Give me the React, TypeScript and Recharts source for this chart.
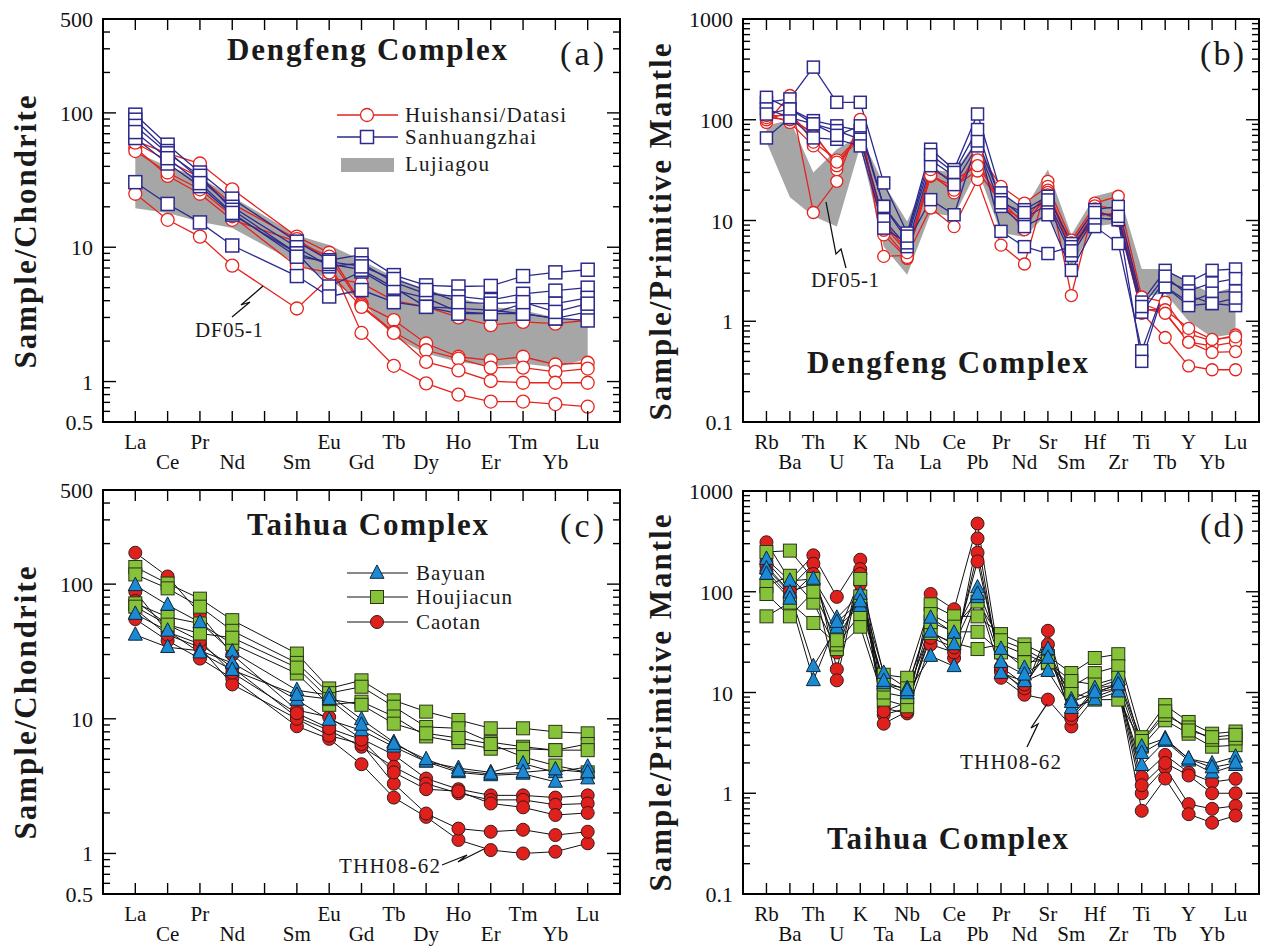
import React from 'react';
import { ComposedChart, Line, Area, XAxis, YAxis, ReferenceArea } from 'recharts';

const SERIF = '"Liberation Serif", "Times New Roman", serif';

// tick labels
const reeLabels = ['La', 'Ce', 'Pr', 'Nd', '', 'Sm', 'Eu', 'Gd', 'Tb', 'Dy', 'Ho', 'Er', 'Tm', 'Yb', 'Lu'];
const spiderLabels = ['Rb', 'Ba', 'Th', 'U', 'K', 'Ta', 'Nb', 'La', 'Ce', 'Pb', 'Pr', 'Nd', 'Sr', 'Sm', 'Hf', 'Zr', 'Ti', 'Tb', 'Y', 'Yb', 'Lu'];
const reeYLabels = [0.5, 1, 10, 100, 500];
const spiderYLabels = [0.1, 1, 10, 100, 1000];

// (a) chondrite-normalised REE, Dengfeng (La Ce Pr Nd Sm Eu Gd Tb Dy Ho Er Tm Yb Lu)
const aHD1 = [25, 16, 12, 7.3, 3.5, 5.9, 5.4, 4.0, 3.6, 3.0, 2.63, 2.78, 2.7, 2.86];
const aHD2 = [62, 50, 42, 27, 12, 9.1, 3.8, 2.87, 1.92, 1.53, 1.44, 1.53, 1.34, 1.38];
const aHD3 = [55, 34, 25, 16, 11, 8.5, 3.7, 2.34, 1.71, 1.48, 1.27, 1.27, 1.18, 1.25];
const aHD4 = [52, 36, 27, 17, 7.2, 6.5, 3.6, 2.3, 1.4, 1.21, 1.01, 0.98, 0.98, 0.98];
const aHD5 = [60, 44, 33, 21, 11.5, 8, 2.3, 1.31, 0.97, 0.8, 0.71, 0.71, 0.68, 0.65];
const aSH1 = [97, 58, 36, 23, 11, 8.0, 8.8, 6.2, 5.2, 5.1, 5.15, 6.1, 6.5, 6.8];
const aSH2 = [89, 52, 32, 20, 10, 7.2, 7.6, 5.5, 4.5, 4.3, 4.05, 4.5, 4.75, 5.0];
const aSH3 = [80, 50, 34, 19, 9, 5.1, 6.6, 4.8, 4.2, 3.3, 3.2, 3.8, 3.8, 4.2];
const aSH4 = [65, 42, 28.5, 17.5, 9, 7.5, 6.8, 5.0, 3.6, 3.5, 3.4, 3.2, 2.95, 3.3];
const aSH5 = [30.5, 21, 15.3, 10.3, 6.1, 4.3, 4.8, 3.9, 3.6, 3.2, 3.2, 3.2, 2.95, 2.85];
const aSH6 = [72, 46, 30, 18, 8.5, 7.8, 7.2, 5.8, 4.8, 3.9, 3.8, 3.9, 3.3, 3.8];
const aLjgHigh = [51, 40, 33, 23.8, 12.3, 10.4, 8.0, 6.0, 4.8, 4.2, 3.6, 3.4, 3.0, 2.86];
const aLjgLow = [19.5, 18, 15.5, 13.9, 7.6, 5.7, 4.0, 2.15, 1.62, 1.4, 1.3, 1.36, 1.27, 1.48];

// (b) primitive-mantle-normalised, Dengfeng
const bHD1 = [94, 174, 12, 24.5, 101, 4.4, 4.5, 13.3, 8.7, 25.5, 5.7, 3.7, 24.5, 1.8, 14.9, 17.4, 1.74, 1.55, 0.75, 0.64, 0.73];
const bHD2 = [114, 94, 55, 32, 81, 7.2, 4.2, 30, 18.8, 49, 21.8, 14.9, 21.8, 6.4, 14, 13, 1.49, 1.23, 0.62, 0.57, 0.62];
const bHD3 = [100, 120, 60, 40, 70, 9.8, 5.0, 27.5, 22, 31, 15, 8.1, 20, 5.5, 12, 11, 1.3, 1.3, 0.85, 0.66, 0.7];
const bHD4 = [105, 100, 75, 35, 75, 8, 4.3, 28, 20, 40, 14, 10, 19, 5.0, 11, 12, 1.35, 1.2, 0.62, 0.49, 0.5];
const bHD5 = [110, 110, 70, 38, 65, 9, 4.8, 32, 25, 35, 16, 9, 18, 6, 13, 10, 1.2, 0.69, 0.36, 0.33, 0.33];
const bSH1 = [149, 161, 333, 149, 149, 23.6, 7.5, 51, 32, 114, 18.8, 12.8, 17.4, 5.9, 12.8, 13.8, 1.55, 3.2, 2.45, 3.2, 3.3];
const bSH2 = [167, 128, 98, 87, 78, 13.8, 6.4, 40, 27.5, 61.6, 16.1, 10.6, 14.4, 4.5, 10.6, 10.2, 1.23, 2.55, 2.0, 2.4, 2.65];
const bSH3 = [128, 105, 91, 78, 64, 10.2, 5.5, 35, 22.7, 55, 13.8, 8.7, 11.4, 3.2, 8.7, 5.9, 0.51, 2.2, 1.55, 1.9, 2.0];
const bSH4 = [66, 105, 66, 64, 55, 8.4, 6.0, 16.1, 11.4, 61.6, 7.8, 5.5, 4.7, 5.5, 10.6, 10.2, 0.4, 2.2, 1.43, 1.5, 1.43];
const bSH5 = [114, 128, 91, 70, 87, 13.8, 7.0, 45, 30, 80, 15, 12, 16, 5.0, 12, 11, 1.4, 2.8, 1.8, 1.5, 1.7];
const bLjgHigh = [87, 100, 30, 51, 70, 23, 9.8, 32, 30, 64, 18.8, 12.8, 32, 7.2, 17.4, 20, 3.3, 3.3, 2.4, 1.9, 2.2];
const bLjgLow = [60, 17, 11, 8.7, 55, 5.5, 2.9, 11.8, 11, 32, 7.5, 6.9, 11.8, 3.5, 8.7, 9.4, 1.74, 1.9, 1.0, 0.69, 0.75];

// (c) chondrite-normalised REE, Taihua
const cBY1 = [98, 70, 52, 31.5, 16.3, 15.0, 9.9, 6.7, 4.8, 4.3, 4.0, 4.65, 4.0, 4.4];
const cBY2 = [42, 34, 32, 26, 13.8, 9.8, 8.2, 6.2, 4.8, 4.0, 3.8, 3.9, 3.4, 3.6];
const cBY3 = [60, 45, 31, 23, 15, 14, 9, 6.5, 5.0, 4.1, 3.9, 4.0, 4.2, 4.0];
const cHJ1 = [134, 101, 78, 54, 30.5, 16.8, 19.3, 13.7, 11.3, 9.8, 8.5, 8.5, 8.0, 7.8];
const cHJ2 = [118, 93, 68, 45, 26, 15.5, 17.3, 12.3, 8.7, 8.5, 6.7, 6.2, 5.85, 6.5];
const cHJ3 = [72, 57, 51, 36, 21.7, 12.7, 13.4, 10.4, 7.4, 6.7, 6.0, 6.0, 5.85, 5.85];
const cHJ4 = [68, 50, 43, 40, 24, 14, 12.7, 9.2, 7.8, 7.2, 6.5, 5.2, 4.5, 4.0];
const cCT1 = [171, 114, 60, 30, 11.6, 10.3, 7.1, 5.4, 3.6, 3.0, 2.7, 2.7, 2.6, 2.7];
const cCT2 = [88, 44, 36, 24, 10.3, 8.2, 6.2, 4.4, 3.3, 2.8, 2.5, 2.5, 2.3, 2.35];
const cCT3 = [55, 38, 28, 20, 8.8, 7.1, 4.6, 2.6, 1.87, 1.26, 1.06, 1.0, 1.03, 1.19];
const cCT4 = [65, 42, 34, 18, 10, 7.5, 6.5, 3.3, 1.98, 1.53, 1.45, 1.5, 1.37, 1.45];
const cCT5 = [75, 50, 38, 22, 11, 8.5, 7.0, 4.0, 3.0, 2.9, 2.35, 2.2, 1.93, 2.0];

// (d) primitive-mantle-normalised, Taihua
const dHJ1 = [248, 256, 134, 36, 134, 15, 14, 75, 57, 57, 38, 30, 23, 15.6, 22, 24, 3.6, 7.5, 5.1, 3.9, 4.1];
const dHJ2 = [114, 144, 78, 27, 45, 8.5, 7.3, 39, 31, 27, 30, 24, 19.5, 11.4, 15.6, 18.2, 2.9, 5.3, 3.9, 2.9, 3.0];
const dHJ3 = [57, 78, 49, 30, 60, 10, 9, 50, 40, 40, 25, 20, 21, 10, 8.5, 8.5, 3.2, 6, 4.5, 3.4, 3.5];
const dHJ4 = [95, 57, 100, 33, 90, 12, 11, 60, 45, 80, 33, 27, 20, 13, 12, 14, 3.3, 6.5, 4.2, 3.6, 3.8];
const dBY1 = [211, 128, 134, 55, 95, 15.6, 11, 55, 39, 110, 27, 17.5, 27, 8.5, 11, 13.4, 2.9, 3.5, 2.2, 1.97, 2.3];
const dBY2 = [170, 98, 18.2, 44, 72, 12.3, 9.8, 23, 18.2, 88, 15.6, 12.9, 16.3, 7.0, 8.5, 10.2, 1.9, 3.3, 2.1, 1.6, 1.9];
const dBY3 = [150, 85, 13.2, 50, 80, 13, 10.5, 40, 30, 95, 20, 15, 22, 8, 10, 12, 2.5, 3.4, 2.2, 1.8, 2.0];
const dCT1 = [310, 130, 230, 89, 208, 7.0, 6.2, 95, 67, 475, 17, 10.3, 41, 5.75, 11, 12, 1.45, 2.4, 1.6, 1.29, 1.39];
const dCT2 = [200, 110, 190, 17, 168, 6, 7, 45, 22, 338, 14, 9.5, 8.5, 4.6, 9, 11, 1.0, 1.8, 0.78, 0.7, 0.75];
const dCT3 = [180, 100, 120, 13.2, 150, 4.9, 6.5, 30, 25, 244, 16, 11, 30, 5.5, 10, 11, 0.67, 1.4, 0.62, 0.51, 0.6];
const dCT4 = [160, 90, 150, 25, 120, 6.5, 8, 35, 28, 200, 18, 12, 25, 6, 10, 12, 1.2, 2.0, 1.5, 1.0, 1.0];

const RED = '#e5231d';
const NAVY = '#2c2a8c';
const GREY = '#a6a6a6';
const C_RED = '#e0201c';
const C_GREEN = '#86c23a';
const C_BLUE = '#1a8ad4';

// markers
const openCircle = (color: string, r: number) => (p: any) =>
  p.cx == null ? <g key={`e-${p.index}`} /> :
    <circle key={`oc-${p.dataKey}-${p.index}`} cx={p.cx} cy={p.cy} r={r} fill="#fff" stroke={color} strokeWidth={1.3} />;
const openSquare = (color: string, s: number) => (p: any) =>
  p.cx == null ? <g key={`e-${p.index}`} /> :
    <rect key={`os-${p.dataKey}-${p.index}`} x={p.cx - s / 2} y={p.cy - s / 2} width={s} height={s} fill="#fff" stroke={color} strokeWidth={1.5} />;
const fillCircle = (color: string, r: number) => (p: any) =>
  p.cx == null ? <g key={`e-${p.index}`} /> :
    <circle key={`fc-${p.dataKey}-${p.index}`} cx={p.cx} cy={p.cy} r={r} fill={color} stroke="#3a1a1a" strokeWidth={1} />;
const fillSquare = (color: string, s: number) => (p: any) =>
  p.cx == null ? <g key={`e-${p.index}`} /> :
    <rect key={`fs-${p.dataKey}-${p.index}`} x={p.cx - s / 2} y={p.cy - s / 2} width={s} height={s} fill={color} stroke="#2a3416" strokeWidth={1} />;
const fillTriangle = (color: string, s: number) => (p: any) =>
  p.cx == null ? <g key={`e-${p.index}`} /> :
    <polygon key={`ft-${p.dataKey}-${p.index}`}
      points={`${p.cx},${p.cy - s * 0.58} ${p.cx - s / 2},${p.cy + s * 0.38} ${p.cx + s / 2},${p.cy + s * 0.38}`}
      fill={color} stroke="#10263a" strokeWidth={1} />;

type Group = { series: Record<string, number[]>; stroke: string; width: number; dot: (p: any) => React.ReactElement };

const logTicks = (lo: number, hi: number) => {
  const out: number[] = [];
  for (let d = 0.01; d <= 1000; d *= 10) {
    for (let m = 1; m < 10; m++) {
      const v = Number((m * d).toPrecision(6));
      if (v >= lo - 1e-9 && v <= hi + 1e-9) out.push(v);
    }
  }
  return out;
};

const isDecade = (v: number) => Math.abs(Math.log10(v) - Math.round(Math.log10(v))) < 1e-6;

const makeYTick = (plotW: number, labels: number[]) => (p: any) => {
  const v = p.payload.value;
  const len = isDecade(v) ? 13 : 7;
  return (
    <g>
      <line x1={p.x} y1={p.y} x2={p.x + len} y2={p.y} stroke="#000" strokeWidth={1.4} />
      <line x1={p.x + plotW} y1={p.y} x2={p.x + plotW - len} y2={p.y} stroke="#000" strokeWidth={1.4} />
      {labels.includes(v) && (
        <text x={p.x - 10} y={p.y + 8} textAnchor="end" fontSize={22} fontFamily={SERIF} fill="#111">{String(v)}</text>
      )}
    </g>
  );
};

const makeXTick = (plotH: number, labels: string[]) => (p: any) => {
  const v = p.payload.value;
  const lab = labels[v - 1] || '';
  const second = v % 2 === 0;
  return (
    <g>
      <line x1={p.x} y1={p.y} x2={p.x} y2={p.y - 11} stroke="#000" strokeWidth={1.4} />
      <line x1={p.x} y1={p.y - plotH} x2={p.x} y2={p.y - plotH + 11} stroke="#000" strokeWidth={1.4} />
      {lab && (
        <text x={p.x} y={p.y + (second ? 47 : 27)} textAnchor="middle" fontSize={21} fontFamily={SERIF} fill="#111">{lab}</text>
      )}
    </g>
  );
};

const buildRows = (labels: string[], groups: Group[], lo?: number[], hi?: number[]) => {
  const xs = labels.map((l, i) => (l ? i + 1 : 0)).filter((x) => x > 0);
  return xs.map((x, i) => {
    const row: any = { x };
    groups.forEach((g) => Object.entries(g.series).forEach(([k, arr]) => { row[k] = arr[i]; }));
    if (lo && hi) row.band = [lo[i], hi[i]];
    return row;
  });
};

type PanelProps = {
  box: { left: number; top: number; width: number; height: number };
  plot: { x: number; y: number; w: number; h: number };
  labels: string[];
  yDomain: [number, number];
  yLabels: number[];
  groups: Group[];
  lo?: number[];
  hi?: number[];
};

const Panel = ({ box, plot, labels, yDomain, yLabels, groups, lo, hi }: PanelProps) => {
  const rows = buildRows(labels, groups, lo, hi);
  const n = labels.length;
  const margin = {
    left: plot.x - box.left - 60,
    top: plot.y - box.top,
    right: box.left + box.width - (plot.x + plot.w),
    bottom: box.top + box.height - (plot.y + plot.h) - 30,
  };
  return (
    <div style={{ position: 'absolute', left: box.left, top: box.top }}>
      <ComposedChart width={box.width} height={box.height} data={rows} margin={margin}>
        <XAxis dataKey="x" type="number" domain={[0, n + 1]} allowDataOverflow
          ticks={labels.map((_, i) => i + 1)} interval={0} height={30}
          axisLine={false} tickLine={false} tickSize={0} tickMargin={0}
          tick={makeXTick(plot.h, labels)} />
        <YAxis type="number" scale="log" domain={yDomain} allowDataOverflow
          ticks={logTicks(yDomain[0], yDomain[1])} interval={0} width={60}
          axisLine={false} tickLine={false} tickSize={0} tickMargin={0}
          tick={makeYTick(plot.w, yLabels)} />
        {lo && hi && (
          <Area dataKey="band" type="linear" fill={GREY} fillOpacity={1} stroke="none"
            isAnimationActive={false} activeDot={false} dot={false} />
        )}
        {groups.flatMap((g) =>
          Object.keys(g.series).map((k) => (
            <Line key={k} dataKey={k} type="linear" stroke={g.stroke} strokeWidth={g.width}
              dot={g.dot} activeDot={false} isAnimationActive={false} />
          ))
        )}
        <ReferenceArea x1={0} x2={n + 1} y1={yDomain[0]} y2={yDomain[1]} fill="none" fillOpacity={0}
          stroke="#000" strokeWidth={2} ifOverflow="visible" />
      </ComposedChart>
    </div>
  );
};

const Bolt = ({ pts }: { pts: number[][] }) => (
  <polyline points={pts.map((p) => p.join(',')).join(' ')} fill="none" stroke="#111" strokeWidth={1.3} />
);

export default function App() {
  const aGroups: Group[] = [
    { series: { aHD1, aHD2, aHD3, aHD4, aHD5 }, stroke: RED, width: 1.3, dot: openCircle(RED, 6.5) },
    { series: { aSH1, aSH2, aSH3, aSH4, aSH5, aSH6 }, stroke: NAVY, width: 1.3, dot: openSquare(NAVY, 13) },
  ];
  const bGroups: Group[] = [
    { series: { bHD1, bHD2, bHD3, bHD4, bHD5 }, stroke: RED, width: 1.3, dot: openCircle(RED, 6) },
    { series: { bSH1, bSH2, bSH3, bSH4, bSH5 }, stroke: NAVY, width: 1.3, dot: openSquare(NAVY, 12) },
  ];
  const cGroups: Group[] = [
    { series: { cCT1, cCT2, cCT3, cCT4, cCT5 }, stroke: '#111', width: 1, dot: fillCircle(C_RED, 6.5) },
    { series: { cHJ1, cHJ2, cHJ3, cHJ4 }, stroke: '#111', width: 1, dot: fillSquare(C_GREEN, 13) },
    { series: { cBY1, cBY2, cBY3 }, stroke: '#111', width: 1, dot: fillTriangle(C_BLUE, 14) },
  ];
  const dGroups: Group[] = [
    { series: { dCT1, dCT2, dCT3, dCT4 }, stroke: '#111', width: 1, dot: fillCircle(C_RED, 6.5) },
    { series: { dHJ1, dHJ2, dHJ3, dHJ4 }, stroke: '#111', width: 1, dot: fillSquare(C_GREEN, 13) },
    { series: { dBY1, dBY2, dBY3 }, stroke: '#111', width: 1, dot: fillTriangle(C_BLUE, 14) },
  ];

  const txt = { fontFamily: SERIF, fill: '#1a1a1a' } as const;

  return (
    <div style={{ position: 'absolute', left: 0, top: 0, width: 1261, height: 947, background: '#fff', fontFamily: SERIF, overflow: 'hidden' }}>
      <Panel box={{ left: 0, top: 0, width: 630, height: 485 }} plot={{ x: 103, y: 19, w: 517, h: 403 }}
        labels={reeLabels} yDomain={[0.5, 500]} yLabels={reeYLabels} groups={aGroups} lo={aLjgLow} hi={aLjgHigh} />
      <Panel box={{ left: 630, top: 0, width: 631, height: 485 }} plot={{ x: 743, y: 19, w: 516, h: 403 }}
        labels={spiderLabels} yDomain={[0.1, 1000]} yLabels={spiderYLabels} groups={bGroups} lo={bLjgLow} hi={bLjgHigh} />
      <Panel box={{ left: 0, top: 470, width: 630, height: 477 }} plot={{ x: 103, y: 490, w: 517, h: 404 }}
        labels={reeLabels} yDomain={[0.5, 500]} yLabels={reeYLabels} groups={cGroups} />
      <Panel box={{ left: 630, top: 470, width: 631, height: 477 }} plot={{ x: 743, y: 491, w: 516, h: 403 }}
        labels={spiderLabels} yDomain={[0.1, 1000]} yLabels={spiderYLabels} groups={dGroups} />

      <svg width={1261} height={947} style={{ position: 'absolute', left: 0, top: 0, pointerEvents: 'none' }}>
        {/* axis titles */}
        <text transform="translate(36,232) rotate(-90)" textAnchor="middle" fontSize={31} fontWeight="bold" textLength={273} lengthAdjust="spacing" {...txt}>Sample/Chondrite</text>
        <text transform="translate(671,232) rotate(-90)" textAnchor="middle" fontSize={31} fontWeight="bold" textLength={377} lengthAdjust="spacing" {...txt}>Sample/Primitive Mantle</text>
        <text transform="translate(36,703) rotate(-90)" textAnchor="middle" fontSize={31} fontWeight="bold" textLength={273} lengthAdjust="spacing" {...txt}>Sample/Chondrite</text>
        <text transform="translate(671,703) rotate(-90)" textAnchor="middle" fontSize={31} fontWeight="bold" textLength={377} lengthAdjust="spacing" {...txt}>Sample/Primitive Mantle</text>

        {/* panel titles */}
        <text x={227} y={60} fontSize={31} fontWeight="bold" textLength={280} lengthAdjust="spacing" {...txt}>Dengfeng Complex</text>
        <text x={807} y={373} fontSize={31} fontWeight="bold" textLength={281} lengthAdjust="spacing" {...txt}>Dengfeng Complex</text>
        <text x={247} y={535} fontSize={31} fontWeight="bold" textLength={241} lengthAdjust="spacing" {...txt}>Taihua Complex</text>
        <text x={827} y={849} fontSize={31} fontWeight="bold" textLength={241} lengthAdjust="spacing" {...txt}>Taihua Complex</text>
        <text x={560} y={65} fontSize={34} textLength={44} lengthAdjust="spacing" {...txt}>(a)</text>
        <text x={1200} y={65} fontSize={34} textLength={44} lengthAdjust="spacing" {...txt}>(b)</text>
        <text x={560} y={537} fontSize={34} textLength={44} lengthAdjust="spacing" {...txt}>(c)</text>
        <text x={1200} y={537} fontSize={34} textLength={44} lengthAdjust="spacing" {...txt}>(d)</text>

        {/* legend (a) */}
        <line x1={337} y1={115} x2={398} y2={115} stroke={RED} strokeWidth={1.3} />
        <circle cx={367} cy={115} r={6.5} fill="#fff" stroke={RED} strokeWidth={1.3} />
        <text x={405} y={122} fontSize={21} textLength={161} lengthAdjust="spacing" {...txt}>Huishansi/Datasi</text>
        <line x1={337} y1={137} x2={398} y2={137} stroke={NAVY} strokeWidth={1.3} />
        <rect x={360.5} y={130.5} width={13} height={13} fill="#fff" stroke={NAVY} strokeWidth={1.5} />
        <text x={405} y={144} fontSize={21} textLength={131} lengthAdjust="spacing" {...txt}>Sanhuangzhai</text>
        <rect x={341} y={158} width={53} height={14} fill={GREY} />
        <text x={405} y={171} fontSize={21} textLength={84} lengthAdjust="spacing" {...txt}>Lujiagou</text>

        {/* legend (c) */}
        <line x1={347} y1={573} x2={408} y2={573} stroke="#111" strokeWidth={1} />
        <polygon points="377,564.9 370,578.3 384,578.3" fill={C_BLUE} stroke="#10263a" strokeWidth={1} />
        <text x={416} y={580} fontSize={21} textLength={69} lengthAdjust="spacing" {...txt}>Bayuan</text>
        <line x1={347} y1={597} x2={408} y2={597} stroke="#111" strokeWidth={1} />
        <rect x={370.5} y={590.5} width={13} height={13} fill={C_GREEN} stroke="#2a3416" strokeWidth={1} />
        <text x={416} y={604} fontSize={21} textLength={96} lengthAdjust="spacing" {...txt}>Houjiacun</text>
        <line x1={347} y1={622} x2={408} y2={622} stroke="#111" strokeWidth={1} />
        <circle cx={377} cy={622} r={6.5} fill={C_RED} stroke="#3a1a1a" strokeWidth={1} />
        <text x={416} y={629} fontSize={21} textLength={64} lengthAdjust="spacing" {...txt}>Caotan</text>

        {/* sample annotations */}
        <Bolt pts={[[232, 317], [250, 302], [241, 305], [263, 286]]} />
        <text x={195} y={337} fontSize={21} textLength={68} lengthAdjust="spacing" {...txt}>DF05-1</text>
        <Bolt pts={[[846, 268], [841, 249], [836, 254], [826, 202]]} />
        <text x={811} y={287} fontSize={21} textLength={68} lengthAdjust="spacing" {...txt}>DF05-1</text>
        <Bolt pts={[[442, 865], [467, 855], [458, 862], [484, 849]]} />
        <text x={339} y={873} fontSize={21} textLength={101} lengthAdjust="spacing" {...txt}>THH08-62</text>
        <Bolt pts={[[1027, 747], [1038, 724], [1031, 728], [1047, 704]]} />
        <text x={960} y={769} fontSize={21} textLength={101} lengthAdjust="spacing" {...txt}>THH08-62</text>
      </svg>
    </div>
  );
}
